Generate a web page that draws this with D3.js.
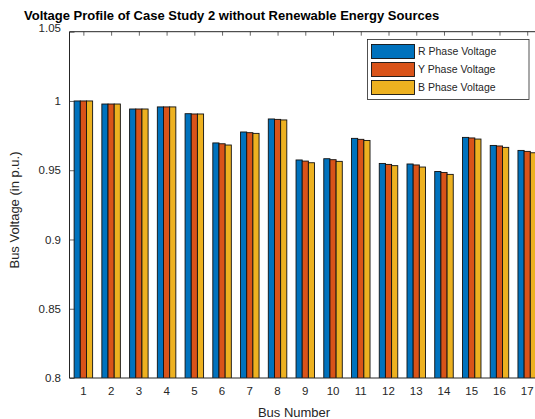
<!DOCTYPE html>
<html>
<head>
<meta charset="utf-8">
<script src="https://cdn.jsdelivr.net/npm/d3@7"></script>
<style>
  body { margin: 0; background: #fff; }
  svg { display: block; font-family: "Liberation Sans", Arial, Helvetica, sans-serif; }
</style>
</head>
<body>
<div id="chart"></div>
<script>
const buses = d3.range(1, 18);
const rPhase = [1.0000, 0.9978, 0.9942, 0.9957, 0.9908, 0.9697, 0.9776, 0.9870, 0.9574, 0.9583, 0.9730, 0.9549, 0.9545, 0.9491, 0.9737, 0.9679, 0.9643];
const yPhase = [1.0000, 0.9978, 0.9942, 0.9957, 0.9906, 0.9691, 0.9771, 0.9867, 0.9566, 0.9576, 0.9723, 0.9542, 0.9538, 0.9484, 0.9733, 0.9675, 0.9636];
const bPhase = [1.0000, 0.9978, 0.9942, 0.9957, 0.9906, 0.9682, 0.9766, 0.9863, 0.9554, 0.9564, 0.9715, 0.9533, 0.9523, 0.9470, 0.9725, 0.9665, 0.9626];
const yTicks = [0.8, 0.85, 0.9, 0.95, 1, 1.05];

const series = [
  { name: "R Phase Voltage", values: rPhase, color: "#0072BD" },
  { name: "Y Phase Voltage", values: yPhase, color: "#D95319" },
  { name: "B Phase Voltage", values: bPhase, color: "#EDB120" }
];

const width = 535, height = 419;
const axisColor = "#262626";
const plotLeft = 69.5, plotTop = 31.7, plotBottom = 378;
const step = 27.74;
const plotRight = plotLeft + 17 * step;

const svg = d3.select("#chart").append("svg")
    .attr("width", width)
    .attr("height", height);

const x = d3.scaleLinear().domain([0.5, 17.5]).range([plotLeft, plotRight]);
const y = d3.scaleLinear().domain([0.8, 1.05]).range([plotBottom, plotTop]);

const groupW = step * 0.667;
const barW = groupW / series.length;

svg.append("defs").append("clipPath").attr("id", "plot")
  .append("rect")
    .attr("x", plotLeft).attr("y", plotTop)
    .attr("width", plotRight - plotLeft).attr("height", plotBottom - plotTop);

// bottom ticks (under bars)
svg.append("g")
    .attr("transform", `translate(0,${plotBottom})`)
    .call(d3.axisBottom(x).tickValues(buses).tickSize(-4).tickFormat(""))
    .call(g => g.select(".domain").remove())
    .call(g => g.selectAll("line").attr("stroke", axisColor).attr("stroke-width", 0.7));

// bars
const bars = svg.append("g").attr("clip-path", "url(#plot)");
series.forEach((s, i) => {
  bars.append("g")
    .selectAll("rect")
    .data(s.values)
    .join("rect")
      .attr("x", (d, j) => x(buses[j]) - groupW / 2 + i * barW)
      .attr("y", d => y(d))
      .attr("width", barW)
      .attr("height", d => y(0.8) - y(d) + 5)
      .attr("fill", s.color)
      .attr("stroke", "#111")
      .attr("stroke-width", 0.9);
});

// left axis
const yAxis = svg.append("g")
    .attr("transform", `translate(${plotLeft},0)`)
    .call(d3.axisLeft(y).tickValues(yTicks).tickSize(-5).tickPadding(8.5).tickFormat(d3.format("~g")));
yAxis.select(".domain").remove();
yAxis.selectAll("line").attr("stroke", axisColor).attr("stroke-width", 0.7);
yAxis.selectAll("text")
    .attr("fill", axisColor)
    .style("font-size", "11.5px")
    .attr("dy", d => d === 1.05 ? "-0.05em" : "0.32em");

// top ticks
svg.append("g")
    .attr("transform", `translate(0,${plotTop})`)
    .call(d3.axisTop(x).tickValues(buses).tickSize(-4).tickFormat(""))
    .call(g => g.select(".domain").remove())
    .call(g => g.selectAll("line").attr("stroke", axisColor).attr("stroke-width", 0.7));

// x tick labels
svg.append("g")
    .selectAll("text")
    .data(buses)
    .join("text")
      .attr("x", d => x(d))
      .attr("y", 395)
      .attr("text-anchor", "middle")
      .attr("fill", axisColor)
      .style("font-size", "11.5px")
      .text(d => d);

// box lines
svg.append("path")
    .attr("d", `M${plotLeft},${plotTop}H${plotRight}M${plotLeft},${plotTop}V${plotBottom}H${plotRight}`)
    .attr("fill", "none")
    .attr("stroke", axisColor)
    .attr("stroke-width", 1);

// labels
svg.append("text")
    .attr("x", 24)
    .attr("y", 20)
    .attr("fill", "#000")
    .style("font-size", "13px")
    .style("font-weight", "bold")
    .text("Voltage Profile of Case Study 2 without Renewable Energy Sources");

svg.append("text")
    .attr("x", 294)
    .attr("y", 416.5)
    .attr("text-anchor", "middle")
    .attr("fill", axisColor)
    .style("font-size", "13px")
    .text("Bus Number");

svg.append("text")
    .attr("transform", "translate(18.5,210) rotate(-90)")
    .attr("text-anchor", "middle")
    .attr("fill", axisColor)
    .style("font-size", "13px")
    .text("Bus Voltage (in p.u.)");

// legend
const legend = svg.append("g");
legend.append("rect")
    .attr("x", 367.5).attr("y", 39.5)
    .attr("width", 161.5).attr("height", 60)
    .attr("fill", "#fff")
    .attr("stroke", axisColor)
    .attr("stroke-width", 0.8);

const row = legend.selectAll("g.item")
    .data(series)
    .join("g")
      .attr("class", "item")
      .attr("transform", (d, i) => `translate(0,${51.5 + i * 18})`);

row.append("rect")
    .attr("x", 371.5).attr("y", -7)
    .attr("width", 43).attr("height", 14)
    .attr("fill", d => d.color)
    .attr("stroke", "#111")
    .attr("stroke-width", 0.9);

row.append("text")
    .attr("x", 418)
    .attr("y", 3.7)
    .attr("fill", axisColor)
    .style("font-size", "10.5px")
    .text(d => d.name);
</script>
</body>
</html>
